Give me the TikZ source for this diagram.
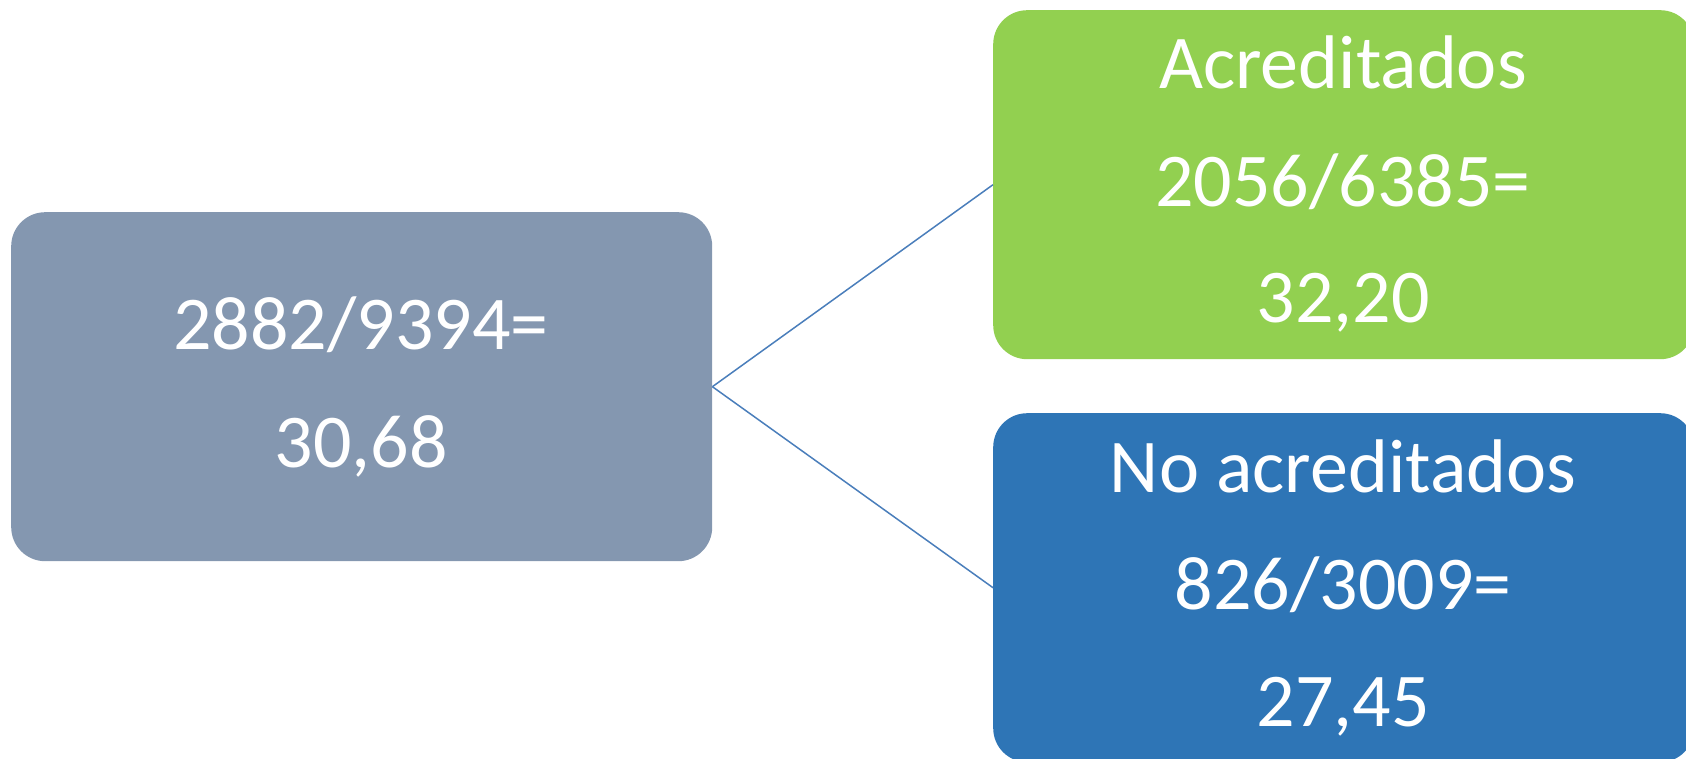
\documentclass[tikz,border=0pt]{standalone}
\usepackage{fontspec}
\setmainfont{Carlito}
\definecolor{grayblue}{HTML}{8497B0}
\definecolor{accgreen}{HTML}{92D050}
\definecolor{accblue}{HTML}{2E75B6}
\definecolor{linkblue}{HTML}{4A7EBB}
\begin{document}
\begin{tikzpicture}[x=1pt,y=-1pt,
  box/.style={rounded corners=34pt, minimum width=701pt, minimum height=349pt, inner sep=0pt, draw=none, anchor=north west},
  lbl/.style={text=white, font=\fontsize{76}{90}\selectfont, anchor=base, inner sep=0pt},
  link/.style={draw=linkblue, line width=1.5pt}]
\useasboundingbox (0,0) rectangle (1686,759);
\clip (0,0) rectangle (1686,759);
\node[box, fill=grayblue] (total) at (11,212) {};
\node[box, fill=accgreen] (acred) at (993,10) {};
\node[box, fill=accblue] (noacred) at (993,413) {};
\draw[link] (total.east) -- (acred.west);
\draw[link] (total.east) -- (noacred.west);
\node[lbl] (t1) at (361,349) {2882/9394=};
\node[lbl] (t2) at (361,467) {30,68};
\node[lbl] (a1) at (1343,89) {Acreditados};
\node[lbl] (a2) at (1343,207) {2056/6385=};
\node[lbl] (a3) at (1343,323) {32,20};
\node[lbl] (n1) at (1343,492) {No acreditados};
\node[lbl] (n2) at (1343,609) {826/3009=};
\node[lbl] (n3) at (1343,726) {27,45};
\end{tikzpicture}
\end{document}
